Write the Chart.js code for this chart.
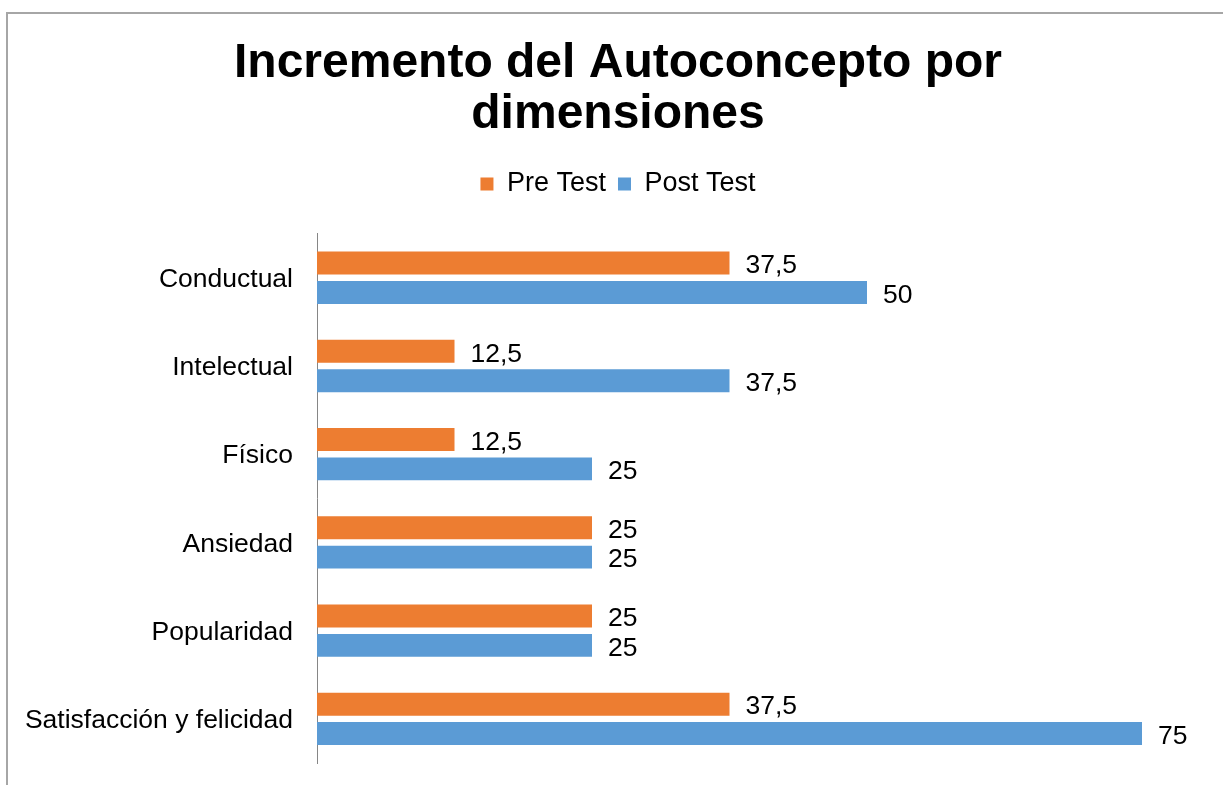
<!DOCTYPE html>
<html>
<head>
<meta charset="utf-8">
<title>Incremento del Autoconcepto por dimensiones</title>
<script src="https://cdn.jsdelivr.net/npm/chart.js@4/dist/chart.umd.min.js"></script>
<style>
    html, body { margin: 0; padding: 0; background: #fff; overflow: hidden; }
    #frame {
        position: absolute; left: 6px; top: 12px; width: 1400px; height: 900px;
        border-left: 2px solid #a6a6a6; border-top: 2px solid #a6a6a6;
    }
    #chartBox { position: absolute; left: 0; top: 0; }
    canvas { display: block; }
</style>
</head>
<body>
<div id="frame"></div>
<div id="chartBox"><canvas id="autoconceptoChart" width="1223" height="785"></canvas></div>
<script>
const dimensiones = ['Conductual', 'Intelectual', 'Físico', 'Ansiedad', 'Popularidad', 'Satisfacción y felicidad'];
const preTest = [37.5, 12.5, 12.5, 25, 25, 37.5];
const postTest = [50, 37.5, 25, 25, 25, 75];

const FONT = "'Liberation Sans', Arial, sans-serif";

// etiquetas de valor al final de cada barra
const valueLabels = {
    id: 'valueLabels',
    afterDatasetsDraw(chart) {
        const ctx = chart.ctx;
        ctx.save();
        ctx.font = '26.5px ' + FONT;
        ctx.fillStyle = '#000';
        ctx.textAlign = 'left';
        ctx.textBaseline = 'middle';
        chart.data.datasets.forEach((ds, i) => {
            const meta = chart.getDatasetMeta(i);
            meta.data.forEach((bar, j) => {
                const txt = String(ds.data[j]).replace('.', ',');
                ctx.fillText(txt, bar.x + 16, bar.y + 3);
            });
        });
        ctx.restore();
    }
};

const ctx = document.getElementById('autoconceptoChart').getContext('2d');

new Chart(ctx, {
    type: 'bar',
    data: {
        labels: dimensiones,
        datasets: [
            {
                label: 'Pre Test',
                data: preTest,
                backgroundColor: '#ED7D31',
                categoryPercentage: 0.667,
                barPercentage: 0.78
            },
            {
                label: 'Post Test',
                data: postTest,
                backgroundColor: '#5B9BD5',
                categoryPercentage: 0.667,
                barPercentage: 0.78
            }
        ]
    },
    options: {
        indexAxis: 'y',
        responsive: false,
        animation: false,
        layout: {
            padding: { top: 0, left: 17, right: 4, bottom: 22 }
        },
        scales: {
            x: {
                position: 'top',
                min: 0,
                max: 82,
                grid: { display: false, drawTicks: false },
                border: { display: false },
                ticks: { display: false },
                afterFit(scale) { scale.height = 26.1; }
            },
            y: {
                grid: { display: false, drawTicks: false },
                border: { display: true, color: '#868686', width: 1 },
                ticks: {
                    color: '#000',
                    padding: 24,
                    labelOffset: 2,
                    font: { family: FONT, size: 26.5 }
                },
                afterFit(scale) {
                    scale.width = 300;
                    // sin margen extra arriba/abajo por las etiquetas
                    scale.paddingTop = 0;
                    scale.paddingBottom = 0;
                }
            }
        },
        plugins: {
            title: {
                display: true,
                text: ['Incremento del Autoconcepto por', 'dimensiones'],
                color: '#000',
                font: { family: FONT, size: 48, weight: 'bold', lineHeight: 1.0625 },
                padding: { top: 38, bottom: 18.5 }
            },
            legend: {
                position: 'top',
                labels: {
                    color: '#000',
                    boxWidth: 13,
                    boxHeight: 13,
                    padding: 12,
                    font: { family: FONT, size: 27 }
                }
            },
            tooltip: { enabled: false }
        }
    },
    plugins: [valueLabels]
});
</script>
</body>
</html>
